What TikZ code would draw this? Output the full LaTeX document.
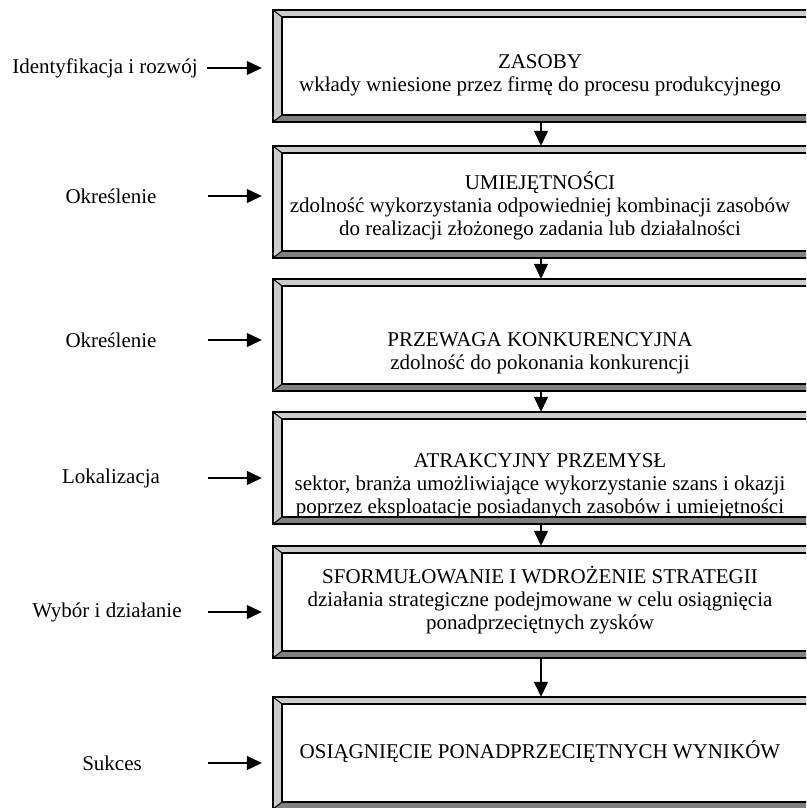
\documentclass[tikz,border=0pt]{standalone}
\usepackage{fontspec}
\setmainfont{Liberation Serif}
\usetikzlibrary{calc,arrows.meta,positioning}
\definecolor{bevlight}{RGB}{204,204,204}
\definecolor{bevdark}{RGB}{128,128,128}
\tikzset{
  bevbox/.style={minimum width=560pt,minimum height=112pt,inner sep=0pt},
  btext/.style={align=center,font=\fontsize{21}{23}\selectfont,inner sep=0pt},
  ltext/.style={font=\fontsize{21}{23}\selectfont,inner sep=0pt},
  jarr/.style={line width=1.2pt,-{Triangle[length=15pt,width=14pt]}},
}
\newcommand\bevel[1]{%
  \fill[bevlight] (#1.north west) -- (#1.north east) -- ($(#1.north east)+(-9,7)$)
     -- ($(#1.north west)+(9,7)$) -- cycle;
  \fill[bevlight] (#1.north west) -- ($(#1.north west)+(9,7)$)
     -- ($(#1.south west)+(9,-7)$) -- (#1.south west) -- cycle;
  \fill[bevdark] (#1.south west) -- ($(#1.south west)+(9,-7)$)
     -- ($(#1.south east)+(-9,-7)$) -- (#1.south east) -- cycle;
  \fill[bevdark] (#1.north east) -- ($(#1.north east)+(-9,7)$)
     -- ($(#1.south east)+(-9,-7)$) -- (#1.south east) -- cycle;
  \draw[line width=1pt] (#1.north west) -- +(9,7) (#1.south west) -- +(9,-7);
  \draw[line width=1.5pt] ($(#1.north west)+(9,7)$) rectangle ($(#1.south east)+(-9,-7)$);
  \draw[line width=2pt] (#1.north west) rectangle (#1.south east);}

\begin{document}
\begin{tikzpicture}[x=1pt,y=-1pt]
  \useasboundingbox (0,0) rectangle (806,808);
  \clip (0,0) rectangle (806,808);
  % ---- boxes (run off the right edge) ----
  \coordinate (axis) at (541,0);
  \node[bevbox] (zasoby) at (553,66) {};
  \node[bevbox] (umiej) at (553,202) {};
  \node[bevbox] (przewaga) at (553,335) {};
  \node[bevbox] (przemysl) at (553,468) {};
  \node[bevbox] (strategia) at (553,602) {};
  \node[bevbox] (wyniki) at (553,753) {};
  \foreach \bx in {zasoby,umiej,przewaga,przemysl,strategia,wyniki} {\bevel{\bx}}
  % ---- texts ----
  \node[btext] (zasobyT) at (540,75)
     {ZASOBY\\wkłady wniesione przez firmę do procesu produkcyjnego};
  \node[btext] (umiejT) at (540,206)
     {UMIEJĘTNOŚCI\\zdolność wykorzystania odpowiedniej kombinacji zasobów\\do realizacji złożonego zadania lub działalności};
  \node[btext] (przewagaT) at (540,353)
     {PRZEWAGA KONKURENCYJNA\\zdolność do pokonania konkurencji};
  \node[btext] (przemyslT) at (540,486)
     {ATRAKCYJNY PRZEMYSŁ\\sektor, branża umożliwiające wykorzystanie szans i okazji\\poprzez eksploatacje posiadanych zasobów i umiejętności};
  \node[btext] (strategiaT) at (540,600)
     {SFORMUŁOWANIE I WDROŻENIE STRATEGII\\działania strategiczne podejmowane w celu osiągnięcia\\ponadprzeciętnych zysków};
  \node[btext] (wynikiT) at (540,752) {OSIĄGNIĘCIE PONADPRZECIĘTNYCH WYNIKÓW};
  % ---- left labels ----
  \node[ltext] (identyf) at (105,68) {Identyfikacja i rozwój};
  \node[ltext] (okresl1) at (111,196) {Określenie};
  \node[ltext] (okresl2) at (111,340) {Określenie};
  \node[ltext] (lokal) at (111,478) {Lokalizacja};
  \node[ltext] (wybor) at (107,612) {Wybór i działanie};
  \node[ltext] (sukces) at (112,763) {Sukces};
  \foreach \lab/\bx/\st in {identyf/zasoby/66,okresl1/umiej/65,okresl2/przewaga/65,
      lokal/przemysl/65,wybor/strategia/65,sukces/wyniki/65}
    \draw[jarr] ($(\lab -| \bx.west)+(-\st,0)$) -- ($(\lab -| \bx.west)+(-11,0)$);
  % ---- flow ----
  \draw[jarr] (zasoby.south -| axis) -- (umiej.north -| axis);
  \draw[jarr] (umiej.south -| axis) -- (przewaga.north -| axis);
  \draw[jarr] (przewaga.south -| axis) -- (przemysl.north -| axis);
  \draw[jarr] (przemysl.south -| axis) -- (strategia.north -| axis);
  \draw[jarr] (strategia.south -| axis) -- (wyniki.north -| axis);
\end{tikzpicture}
\end{document}
